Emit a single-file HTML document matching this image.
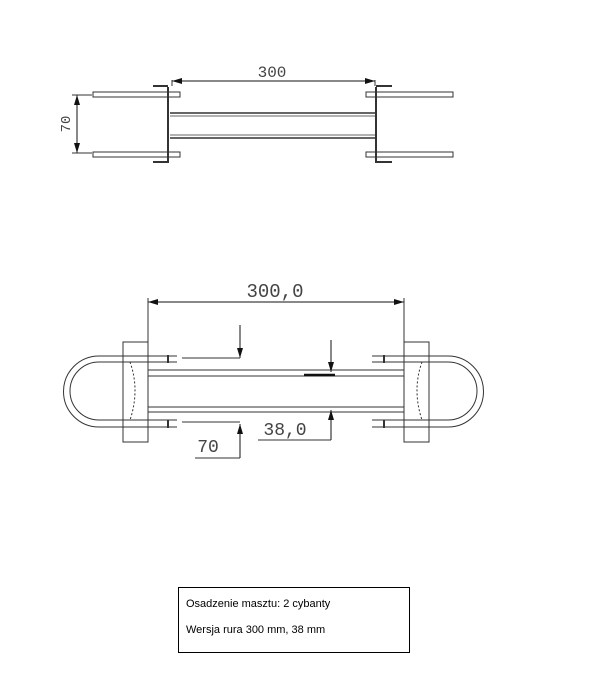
<!DOCTYPE html>
<html><head><meta charset="utf-8"><style>
html,body{margin:0;padding:0;background:#fff;width:603px;height:700px;overflow:hidden}
svg{display:block}
</style></head><body>
<svg width="603" height="700" viewBox="0 0 603 700" xmlns="http://www.w3.org/2000/svg">
<defs>
<marker id="a" viewBox="0 0 10 6" refX="10" refY="3" markerWidth="10" markerHeight="6" orient="auto-start-reverse" markerUnits="userSpaceOnUse"><path d="M0,0 L10,3 L0,6 Z" fill="#111"/></marker>
</defs>
<g stroke="#333" fill="none" stroke-width="1">
<!-- TOP VIEW -->
<line x1="172" y1="81" x2="375" y2="81" stroke="#111" marker-start="url(#a)" marker-end="url(#a)"/>
<line x1="168" y1="87" x2="168" y2="163" stroke-width="2"/>
<line x1="376" y1="87" x2="376" y2="163" stroke-width="2"/>
<line x1="172" y1="80" x2="172" y2="86"/><line x1="375" y1="80" x2="375" y2="86"/>
<rect x="93" y="92" width="87" height="5"/><rect x="93" y="152" width="87" height="5"/>
<rect x="366" y="92" width="87" height="5"/><rect x="366" y="152" width="87" height="5"/>
<line x1="170" y1="113" x2="375" y2="113" stroke-width="1.5"/>
<line x1="170" y1="116" x2="375" y2="116" stroke-width="0.8"/>
<line x1="170" y1="135" x2="375" y2="135" stroke-width="0.8"/>
<line x1="170" y1="138" x2="375" y2="138" stroke-width="1.5"/>
<line x1="153" y1="86" x2="168" y2="86" stroke-width="2"/><line x1="153" y1="162" x2="168" y2="162" stroke-width="2"/>
<line x1="376" y1="86" x2="392" y2="86" stroke-width="2"/><line x1="376" y1="162" x2="392" y2="162" stroke-width="2"/>
<line x1="77" y1="95" x2="77" y2="153" stroke="#111" marker-start="url(#a)" marker-end="url(#a)"/>
<line x1="72" y1="95" x2="92" y2="95"/><line x1="72" y1="153" x2="92" y2="153"/>
<!-- BOTTOM VIEW -->
<line x1="148" y1="302" x2="404" y2="302" stroke="#111" marker-start="url(#a)" marker-end="url(#a)"/>
<line x1="148" y1="298" x2="148" y2="415"/><line x1="404" y1="298" x2="404" y2="415"/>
<line x1="148" y1="370" x2="404" y2="370"/><line x1="148" y1="376" x2="404" y2="376"/>
<line x1="148" y1="407" x2="404" y2="407"/><line x1="148" y1="412" x2="404" y2="412"/>
<rect x="123" y="342" width="25" height="100"/>
<rect x="404" y="342" width="25" height="100"/>
<path d="M177,356 L99,356 A35.5,35.5 0 0 0 99,427 L177,427"/>
<path d="M177,362 L99,362 A29,29 0 0 0 99,420 L177,420"/>
<path d="M372,356 L448,356 A35.5,35.5 0 0 1 448,427 L372,427"/>
<path d="M372,362 L448,362 A29,29 0 0 1 448,420 L372,420"/>
<path d="M130,362 Q140,390 130,420" stroke-dasharray="2,2"/>
<path d="M422,362 Q412,390 422,420" stroke-dasharray="2,2"/>
<line x1="168" y1="355" x2="168" y2="363" stroke-width="2"/><line x1="168" y1="420" x2="168" y2="428" stroke-width="2"/>
<line x1="384" y1="355" x2="384" y2="363" stroke-width="2"/><line x1="384" y1="420" x2="384" y2="428" stroke-width="2"/>
<!-- leaders -->
<line x1="240" y1="325" x2="240" y2="358" stroke="#111" marker-end="url(#a)"/>
<line x1="182" y1="358" x2="240" y2="358"/>
<line x1="331" y1="340" x2="331" y2="372" stroke="#111" marker-end="url(#a)"/>
<line x1="304" y1="375" x2="335" y2="375" stroke="#111" stroke-width="2.5"/>
<line x1="331" y1="440" x2="331" y2="410" stroke="#111" marker-end="url(#a)"/>
<line x1="258" y1="440" x2="331" y2="440"/>
<line x1="240" y1="458" x2="240" y2="424" stroke="#111" marker-end="url(#a)"/>
<line x1="182" y1="422" x2="240" y2="422"/>
<line x1="195" y1="458" x2="240" y2="458"/>
<!-- box -->
<rect x="178.5" y="587.5" width="231" height="65" stroke="#000"/>
</g>
<g font-family="Liberation Mono, monospace" fill="#444">
<text x="272" y="77" font-size="16" text-anchor="middle">300</text>
<text x="0" y="0" font-size="14" text-anchor="middle" transform="translate(70,124) rotate(-90)">70</text>
<text x="275" y="297" font-size="19" text-anchor="middle">300,0</text>
<text x="285" y="435" font-size="18" text-anchor="middle">38,0</text>
<text x="208" y="452" font-size="18" text-anchor="middle">70</text>
</g>
<g font-family="Liberation Sans, sans-serif" font-size="11" fill="#000">
<text x="186" y="607">Osadzenie masztu: 2 cybanty</text>
<text x="186" y="633">Wersja rura 300 mm, 38 mm</text>
</g>
</svg>
</body></html>
